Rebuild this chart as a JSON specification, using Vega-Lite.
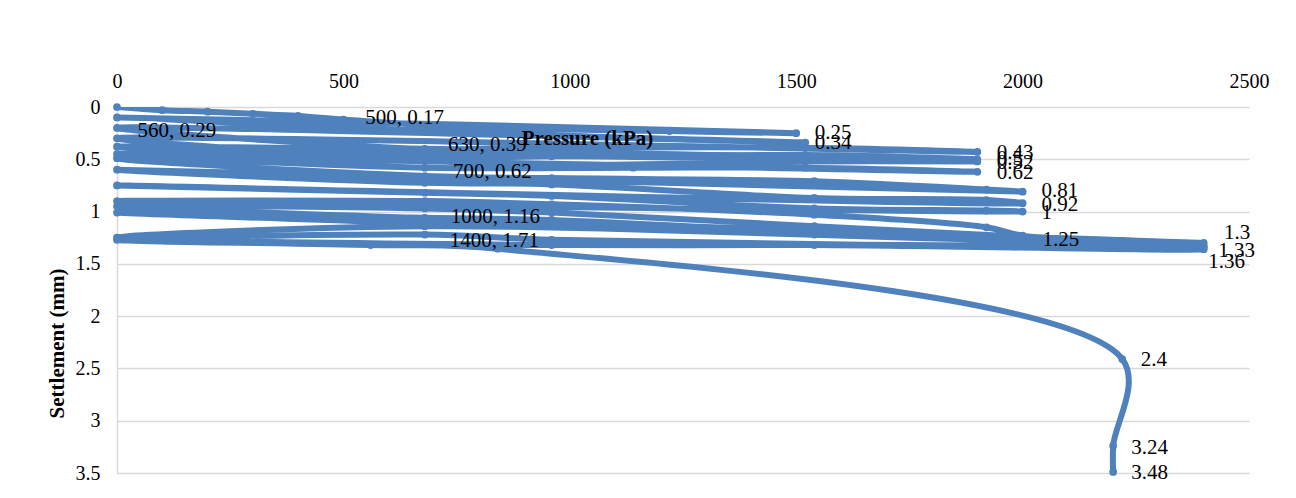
{
  "$schema": "https://vega.github.io/schema/vega-lite/v6.json",
  "width": 1132,
  "height": 366,
  "autosize": {"type": "none"},
  "padding": {"left": 117, "top": 107, "right": 47, "bottom": 25},
  "background": "white",
  "config": {
    "view": {"stroke": null},
    "font": "Liberation Serif"
  },
  "datasets": {
    "curve": [
      {"s": 1, "p": 0, "d": 0}, {"s": 2, "p": 100, "d": 0.03}, {"s": 3, "p": 200, "d": 0.045},
      {"s": 4, "p": 300, "d": 0.065}, {"s": 5, "p": 400, "d": 0.085}, {"s": 6, "p": 500, "d": 0.12},
      {"s": 7, "p": 757, "d": 0.19}, {"s": 8, "p": 1220, "d": 0.23}, {"s": 9, "p": 1500, "d": 0.25},
      {"s": 10, "p": 0, "d": 0.1}, {"s": 11, "p": 960, "d": 0.27}, {"s": 12, "p": 1520, "d": 0.34},
      {"s": 13, "p": 0, "d": 0.2}, {"s": 14, "p": 680, "d": 0.4}, {"s": 15, "p": 960, "d": 0.39},
      {"s": 16, "p": 1520, "d": 0.39}, {"s": 17, "p": 1900, "d": 0.43},
      {"s": 18, "p": 0, "d": 0.3}, {"s": 19, "p": 680, "d": 0.485}, {"s": 20, "p": 960, "d": 0.47},
      {"s": 21, "p": 1140, "d": 0.47}, {"s": 22, "p": 1520, "d": 0.46}, {"s": 23, "p": 1900, "d": 0.5},
      {"s": 24, "p": 0, "d": 0.38}, {"s": 25, "p": 960, "d": 0.55}, {"s": 26, "p": 1520, "d": 0.52},
      {"s": 27, "p": 1900, "d": 0.52},
      {"s": 28, "p": 0, "d": 0.45}, {"s": 29, "p": 680, "d": 0.58}, {"s": 30, "p": 1140, "d": 0.58},
      {"s": 31, "p": 1520, "d": 0.58}, {"s": 32, "p": 1900, "d": 0.62},
      {"s": 33, "p": 0, "d": 0.49}, {"s": 34, "p": 680, "d": 0.66}, {"s": 35, "p": 960, "d": 0.68},
      {"s": 36, "p": 1540, "d": 0.71}, {"s": 37, "p": 1920, "d": 0.79}, {"s": 38, "p": 2000, "d": 0.81},
      {"s": 39, "p": 0, "d": 0.6}, {"s": 40, "p": 680, "d": 0.725}, {"s": 41, "p": 960, "d": 0.74},
      {"s": 42, "p": 1540, "d": 0.87}, {"s": 43, "p": 1920, "d": 0.89}, {"s": 44, "p": 2000, "d": 0.92},
      {"s": 45, "p": 0, "d": 0.75}, {"s": 46, "p": 680, "d": 0.82}, {"s": 47, "p": 960, "d": 0.85},
      {"s": 48, "p": 1540, "d": 0.97}, {"s": 49, "p": 1920, "d": 0.99}, {"s": 50, "p": 2000, "d": 1.0},
      {"s": 51, "p": 0, "d": 0.9}, {"s": 52, "p": 680, "d": 0.9}, {"s": 53, "p": 960, "d": 0.93},
      {"s": 54, "p": 1540, "d": 1.03}, {"s": 55, "p": 1920, "d": 1.15}, {"s": 56, "p": 2000, "d": 1.23},
      {"s": 57, "p": 2220, "d": 1.28}, {"s": 58, "p": 2400, "d": 1.3},
      {"s": 59, "p": 0, "d": 0.95}, {"s": 60, "p": 680, "d": 0.97}, {"s": 61, "p": 960, "d": 1.01},
      {"s": 62, "p": 1540, "d": 1.14}, {"s": 63, "p": 2000, "d": 1.24}, {"s": 64, "p": 2220, "d": 1.3},
      {"s": 65, "p": 2400, "d": 1.33},
      {"s": 66, "p": 0, "d": 1.01}, {"s": 67, "p": 680, "d": 1.06}, {"s": 68, "p": 960, "d": 1.08},
      {"s": 69, "p": 1540, "d": 1.2}, {"s": 70, "p": 2220, "d": 1.31}, {"s": 71, "p": 2400, "d": 1.36},
      {"s": 72, "p": 1540, "d": 1.32}, {"s": 73, "p": 960, "d": 1.32},
      {"s": 74, "p": 0, "d": 1.25}, {"s": 75, "p": 680, "d": 1.14}, {"s": 76, "p": 1540, "d": 1.22},
      {"s": 77, "p": 2400, "d": 1.34}, {"s": 78, "p": 960, "d": 1.27}, {"s": 79, "p": 680, "d": 1.22},
      {"s": 80, "p": 0, "d": 1.27}, {"s": 81, "p": 560, "d": 1.32}, {"s": 82, "p": 841, "d": 1.355},
      {"s": 83, "p": 2220, "d": 2.41}, {"s": 84, "p": 2200, "d": 3.24}, {"s": 85, "p": 2200, "d": 3.49}
    ],
    "labels": [
      {"t": "500, 0.17", "p": 548, "d": 0.102},
      {"t": "560, 0.29", "p": 45, "d": 0.233},
      {"t": "630, 0.39", "p": 731, "d": 0.36},
      {"t": "700, 0.62", "p": 742, "d": 0.625},
      {"t": "1000, 1.16", "p": 737, "d": 1.052},
      {"t": "1400, 1.71", "p": 735, "d": 1.285},
      {"t": "0.25", "p": 1541, "d": 0.249},
      {"t": "0.34", "p": 1541, "d": 0.344},
      {"t": "0.43", "p": 1943, "d": 0.44},
      {"t": "0.5", "p": 1943, "d": 0.5},
      {"t": "0.52", "p": 1943, "d": 0.535},
      {"t": "0.62", "p": 1943, "d": 0.63},
      {"t": "0.81", "p": 2042, "d": 0.807},
      {"t": "0.92", "p": 2042, "d": 0.934},
      {"t": "1", "p": 2042, "d": 1.013},
      {"t": "1.25", "p": 2044, "d": 1.27},
      {"t": "1.3", "p": 2445, "d": 1.205},
      {"t": "1.33", "p": 2432, "d": 1.38},
      {"t": "1.36", "p": 2410, "d": 1.486},
      {"t": "2.4", "p": 2261, "d": 2.416},
      {"t": "3.24", "p": 2240, "d": 3.26},
      {"t": "3.48", "p": 2240, "d": 3.5}
    ]
  },
  "encoding": {
    "x": {
      "field": "p", "type": "quantitative",
      "scale": {"domain": [0, 2500], "nice": false, "zero": false},
      "axis": {
        "orient": "top", "title": "Pressure (kPa)", "values": [0, 500, 1000, 1500, 2000, 2500],
        "labelExpr": "'' + datum.value", "zindex": 2, "labelFlush": false, "labelOverlap": false,
        "grid": false, "ticks": false, "domain": false,
        "labelFont": "Liberation Serif", "labelFontSize": 20, "labelColor": "#000000", "labelPadding": 16,
        "titleFont": "Liberation Serif", "titleFontSize": 21, "titleFontWeight": "bold", "titleColor": "#000000",
        "titleX": 470, "titleY": 31, "titleBaseline": "middle", "titleAlign": "center"
      }
    },
    "y": {
      "field": "d", "type": "quantitative",
      "scale": {"domain": [0, 3.5], "reverse": true, "nice": false, "zero": false},
      "axis": {
        "title": "Settlement (mm)", "values": [0, 0.5, 1, 1.5, 2, 2.5, 3, 3.5],
        "labelExpr": "'' + datum.value", "labelFlush": false, "labelOverlap": false,
        "grid": true, "gridColor": "#d9d9d9", "gridWidth": 1.5,
        "ticks": false, "domain": true, "domainColor": "#d9d9d9", "domainWidth": 1.5,
        "labelFont": "Liberation Serif", "labelFontSize": 20, "labelColor": "#000000", "labelPadding": 17,
        "titleFont": "Liberation Serif", "titleFontSize": 21, "titleFontWeight": "bold", "titleColor": "#000000",
        "titleX": -60, "titleY": 236, "titleBaseline": "middle", "titleAngle": -90, "titleAlign": "center"
      }
    }
  },
  "layer": [
    {
      "data": {"name": "curve"},
      "mark": {"type": "line", "interpolate": "catmull-rom", "color": "#4f81bd", "strokeWidth": 6, "clip": true},
      "encoding": {"order": {"field": "s", "type": "quantitative"}}
    },
    {
      "data": {"name": "curve"},
      "mark": {"type": "circle", "color": "#4f81bd", "opacity": 1, "size": 60, "clip": false}
    },
    {
      "data": {"name": "labels"},
      "mark": {"type": "text", "align": "left", "baseline": "middle", "font": "Liberation Serif", "fontSize": 21, "color": "#000000"},
      "encoding": {"text": {"field": "t", "type": "nominal"}}
    }
  ]
}
